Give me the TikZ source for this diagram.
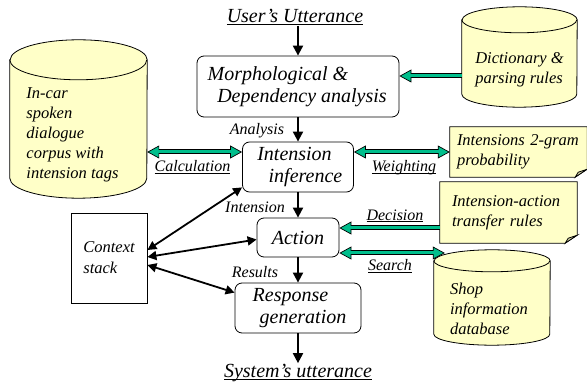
\documentclass[tikz,border=0pt]{standalone}
\usepackage{fontspec}
\setmainfont{Liberation Serif}
\usetikzlibrary{arrows.meta,positioning,backgrounds}

\definecolor{dbyellow}{RGB}{255,255,200}
\definecolor{foldyellow}{RGB}{205,205,160}
\definecolor{flowgreen}{RGB}{0,190,140}

\newcommand{\utext}[1]{\underline{\raisebox{0pt}[\height][0pt]{#1}}}

\tikzset{
  stage/.style={draw, line width=0.8pt, rounded corners=7pt, align=center, inner sep=0pt,
    font=\fontsize{20}{22}\selectfont\itshape},
  utterance/.style={inner sep=1pt, font=\fontsize{20}{22}\selectfont\itshape},
  tag/.style={inner sep=0pt, font=\fontsize{16}{18}\selectfont\itshape},
  database/.style={inner sep=0pt},
  dbfill/.style={draw, line width=0.8pt, fill=dbyellow},
  dbtext/.style={align=left, inner sep=0pt, font=\fontsize{16.5}{20}\selectfont\itshape},
  note/.style={align=left, inner sep=0pt, font=\fontsize{16.5}{20}\selectfont\itshape},
  notefill/.style={draw, line width=0.8pt, fill=dbyellow},
  foldfill/.style={draw, line width=0.8pt, fill=foldyellow},
  flow/.style={line width=2pt, -{Triangle[length=10pt,width=10pt]}},
  link/.style={line width=1.8pt, {Triangle[length=9pt,width=9pt]}-{Triangle[length=9pt,width=9pt]}},
  gtip/.tip={Triangle[length=12pt,width=13pt,color=black,fill=flowgreen,line width=0.7pt]},
  feed/.style={line width=5pt, -gtip, postaction={draw=flowgreen, line width=3pt, arrows=-, shorten >=9pt}},
  share/.style={line width=5pt, gtip-gtip, postaction={draw=flowgreen, line width=3pt, arrows=-, shorten <=9pt, shorten >=9pt}},
}

\begin{document}
\begin{tikzpicture}[x=1pt, y=-1pt]
  \useasboundingbox (0,0) rectangle (587,387);
  % main chain
  \node[utterance] (user) at (295,17) {\utext{User's Utterance}};
  \node[stage, minimum width=202pt, minimum height=61pt] (morph) at (298,86.5)
    {Morphological \&\hspace*{40pt}\\\hspace*{8pt}Dependency analysis};
  \node[stage, minimum width=111pt, minimum height=50pt] (infer) at (298,167)
    {Intension\hspace*{7pt}\\\hspace*{15pt}inference};
  \node[stage, minimum width=82pt, minimum height=39pt] (action) at (298,237.5) {Action};
  \node[stage, minimum width=126pt, minimum height=50pt] (response) at (298,308)
    {Response\hspace*{15pt}\\\hspace*{10pt}generation};
  \node[utterance] (system) at (298,372) {\utext{System's utterance}};
  \node[tag] (analysis) at (257,131) {Analysis};
  \node[tag] (intension) at (255,207) {Intension};
  \node[tag] (results) at (255,272) {Results};
  % knowledge sources
  \node[draw, line width=0.8pt, minimum width=76pt, minimum height=90pt, align=left,
    font=\fontsize{16.5}{21}\selectfont\itshape] (context) at (109,258) {Context\\stack};
  \node[database, minimum width=137pt, minimum height=158pt] (corpus) at (78.5,119) {};
  \node[dbtext] (corpustext) at ([xshift=-6pt, yshift=-16pt]corpus.center) {In-car\\spoken\\dialogue\\corpus with\\intension tags};
  \node[database, minimum width=115pt, minimum height=100pt] (dict) at (519.5,57) {};
  \node[dbtext] (dicttext) at ([yshift=-13pt]dict.center) {Dictionary \&\\parsing rules};
  \node[database, minimum width=116pt, minimum height=95pt] (shop) at (492,297.5) {};
  \node[dbtext] (shoptext) at ([xshift=-3pt, yshift=-11pt]shop.center) {Shop\\information\\database};
  \node[note, minimum width=137pt, minimum height=50pt, text width=123pt] (bigram) at (518.5,152) {Intensions 2-gram\\probability};
  \node[note, minimum width=137pt, minimum height=61pt, text width=113pt] (rules) at (508.5,212.5) {Intension-action\\transfer rules};
  \begin{scope}[on background layer]
    \foreach \n/\r/\w in {corpus/20/68.5, dict/13/57.5, shop/11/58}{
      \path[dbfill] ([yshift=-\r pt]\n.north west) -- ([yshift=\r pt]\n.south west)
        arc[start angle=180, end angle=360, x radius=\w pt, y radius=\r pt]
        -- ([yshift=-\r pt]\n.north east)
        arc[start angle=0, end angle=180, x radius=\w pt, y radius=\r pt] -- cycle;
      \draw[line width=0.8pt] ([yshift=-\r pt]\n.north west)
        arc[start angle=180, end angle=360, x radius=\w pt, y radius=\r pt];
    }
    \foreach \n in {bigram,rules}{
      \path[notefill] (\n.north west) -- (\n.north east) -- ([yshift=8pt]\n.south east)
        -- ([xshift=-12pt]\n.south east) -- (\n.south west) -- cycle;
      \path[foldfill] ([xshift=-12pt]\n.south east) -- ([yshift=8pt]\n.south east)
        -- ([xshift=-9pt, yshift=5pt]\n.south east) -- cycle;
    }
  \end{scope}
  \coordinate (shopjoin) at ([xshift=11pt]shop.west);
  % flow arrows
  \draw[flow] (user.south -| morph.north) -- (morph.north);
  \draw[flow] (morph) -- (infer);
  \draw[flow] (infer) -- (action);
  \draw[flow] (action) -- (response);
  \draw[flow] (response) -- (response |- system.north);
  \draw[link] ([yshift=8pt]context.east) -- ([yshift=5pt]infer.south west);
  \draw[link] ([yshift=1pt]context.east) -- ([yshift=-2pt]action.west);
  \draw[link] ([yshift=-7pt]context.east) -- ([yshift=-10pt]response.north west);
  % knowledge arrows
  \draw[feed] ([yshift=-19pt]dict.west) -- ([yshift=-19pt]dict.west -| morph.east);
  \draw[share] ([yshift=15pt]infer.west -| corpus.east) -- ([yshift=15pt]infer.west);
  \draw[share] ([yshift=15pt]infer.east) -- ([yshift=15pt]infer.east -| bigram.west);
  \draw[feed] ([yshift=9.5pt]action.east -| rules.west) -- ([yshift=9.5pt]action.east);
  \draw[share] ([yshift=-15.5pt]action.east) -- ([yshift=-15.5pt]action.east -| shopjoin);
  \node[tag] (calc) at (192.5,167) {\utext{Calculation}};
  \node[tag] (weight) at (404,167) {\utext{Weighting}};
  \node[tag] (decide) at (395,216) {\utext{Decision}};
  \node[tag] (search) at (390,266) {\utext{Search}};
\end{tikzpicture}
\end{document}
